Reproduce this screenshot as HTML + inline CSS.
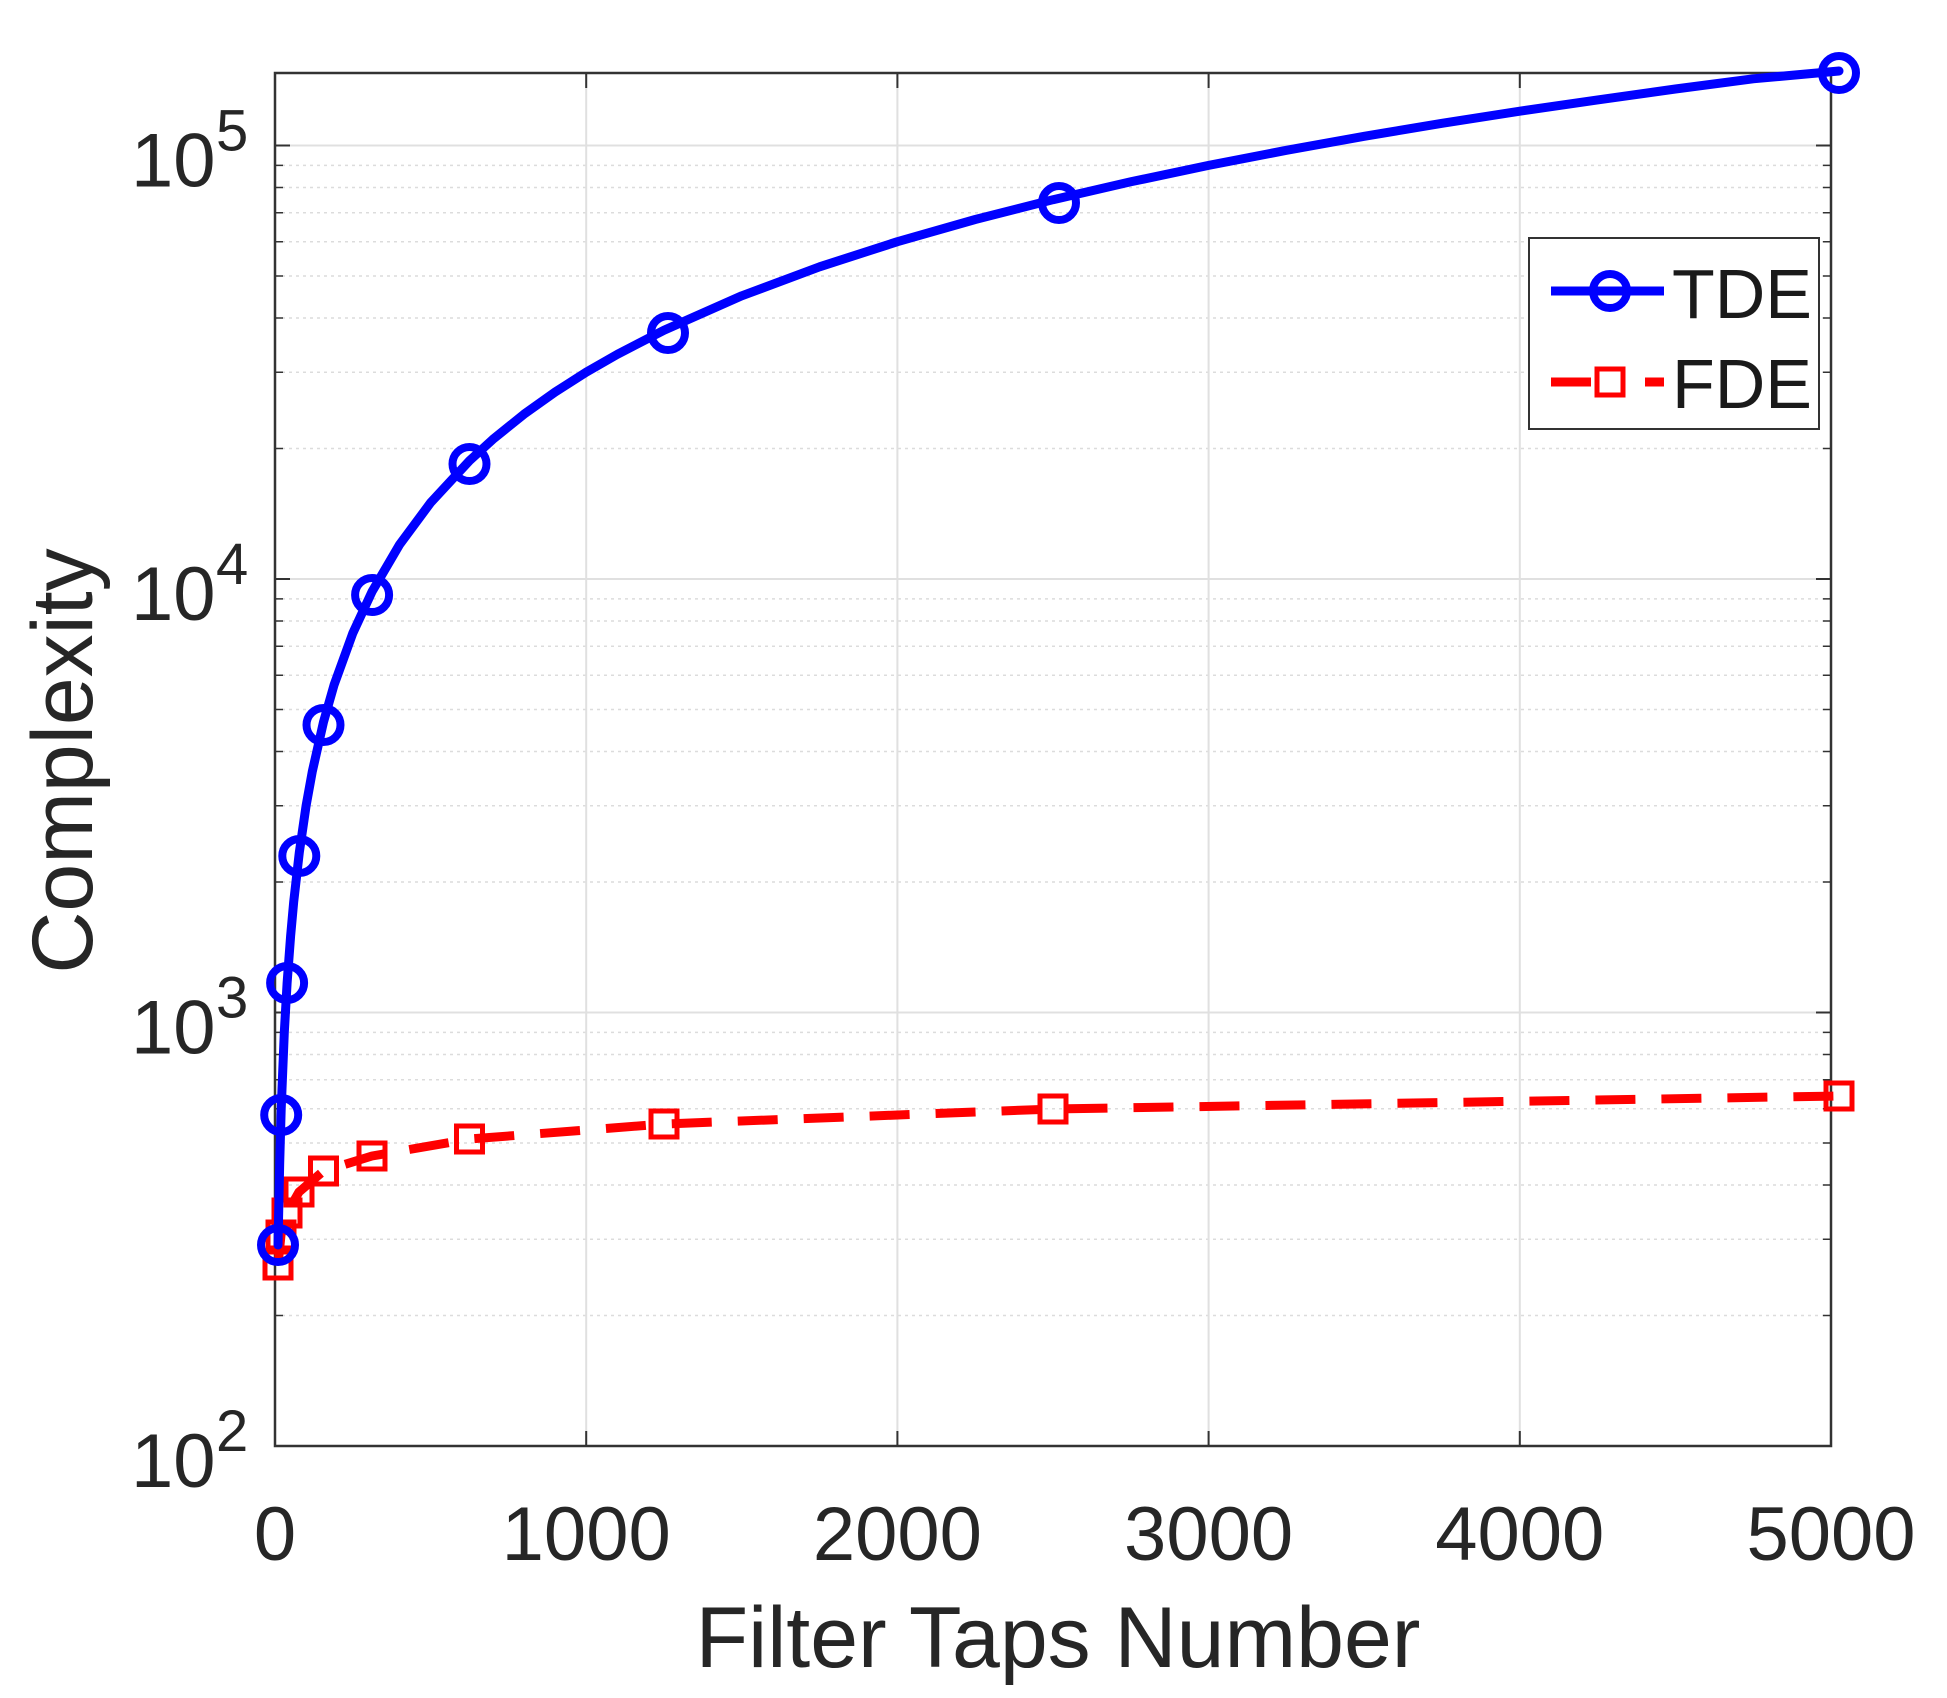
<!DOCTYPE html>
<html><head><meta charset="utf-8"><style>
html,body{margin:0;padding:0;background:#fff;}
svg{display:block;font-family:"Liberation Sans",Arial,sans-serif;}
</style></head><body>
<svg width="1947" height="1698" viewBox="0 0 1947 1698" xmlns="http://www.w3.org/2000/svg">
<rect width="1947" height="1698" fill="#fff"/>
<!-- minor grid -->
<g stroke="#dcdcdc" stroke-width="1.5" stroke-dasharray="3,4">
<line x1="275" x2="1831" y1="1315.5" y2="1315.5"/><line x1="275" x2="1831" y1="1239.2" y2="1239.2"/><line x1="275" x2="1831" y1="1185" y2="1185"/><line x1="275" x2="1831" y1="1143" y2="1143"/><line x1="275" x2="1831" y1="1108.7" y2="1108.7"/><line x1="275" x2="1831" y1="1079.7" y2="1079.7"/><line x1="275" x2="1831" y1="1054.5" y2="1054.5"/><line x1="275" x2="1831" y1="1032.4" y2="1032.4"/>
<line x1="275" x2="1831" y1="882" y2="882"/><line x1="275" x2="1831" y1="805.7" y2="805.7"/><line x1="275" x2="1831" y1="751.5" y2="751.5"/><line x1="275" x2="1831" y1="709.5" y2="709.5"/><line x1="275" x2="1831" y1="675.2" y2="675.2"/><line x1="275" x2="1831" y1="646.2" y2="646.2"/><line x1="275" x2="1831" y1="621" y2="621"/><line x1="275" x2="1831" y1="598.9" y2="598.9"/>
<line x1="275" x2="1831" y1="448.5" y2="448.5"/><line x1="275" x2="1831" y1="372.2" y2="372.2"/><line x1="275" x2="1831" y1="318" y2="318"/><line x1="275" x2="1831" y1="276" y2="276"/><line x1="275" x2="1831" y1="241.7" y2="241.7"/><line x1="275" x2="1831" y1="212.7" y2="212.7"/><line x1="275" x2="1831" y1="187.5" y2="187.5"/><line x1="275" x2="1831" y1="165.4" y2="165.4"/>
</g>
<!-- major grid -->
<g stroke="#e0e0e0" stroke-width="2">
<line x1="275" x2="1831" y1="1012.5" y2="1012.5"/><line x1="275" x2="1831" y1="579" y2="579"/><line x1="275" x2="1831" y1="145.5" y2="145.5"/>
<line x1="586.2" x2="586.2" y1="73" y2="1446"/><line x1="897.4" x2="897.4" y1="73" y2="1446"/><line x1="1208.6" x2="1208.6" y1="73" y2="1446"/><line x1="1519.8" x2="1519.8" y1="73" y2="1446"/>
</g>
<!-- ticks -->
<g stroke="#333" stroke-width="2">
<path d="M275 1012.5h15M275 579h15M275 145.5h15M1831 1012.5h-15M1831 579h-15M1831 145.5h-15"/>
<path d="M586.2 1446v-15M897.4 1446v-15M1208.6 1446v-15M1519.8 1446v-15M586.2 73v15M897.4 73v15M1208.6 73v15M1519.8 73v15"/>
<g stroke-width="1.5">
<path d="M275 1315.5h8M275 1239.2h8M275 1185h8M275 1143h8M275 1108.7h8M275 1079.7h8M275 1054.5h8M275 1032.4h8M275 882h8M275 805.7h8M275 751.5h8M275 709.5h8M275 675.2h8M275 646.2h8M275 621h8M275 598.9h8M275 448.5h8M275 372.2h8M275 318h8M275 276h8M275 241.7h8M275 212.7h8M275 187.5h8M275 165.4h8"/>
<path d="M1831 1315.5h-8M1831 1239.2h-8M1831 1185h-8M1831 1143h-8M1831 1108.7h-8M1831 1079.7h-8M1831 1054.5h-8M1831 1032.4h-8M1831 882h-8M1831 805.7h-8M1831 751.5h-8M1831 709.5h-8M1831 675.2h-8M1831 646.2h-8M1831 621h-8M1831 598.9h-8M1831 448.5h-8M1831 372.2h-8M1831 318h-8M1831 276h-8M1831 241.7h-8M1831 212.7h-8M1831 187.5h-8M1831 165.4h-8"/>
</g>
</g>
<rect x="275" y="73" width="1556" height="1373" fill="none" stroke="#333" stroke-width="2.5"/>
<!-- FDE -->
<polyline fill="none" stroke="#ff0000" stroke-width="9" stroke-dasharray="40,26" stroke-linejoin="round" points="278,1265 281,1235 287,1213 299,1192 323.5,1171 372,1156 469.5,1139 664,1124 1053,1109 1839,1096"/>
<g fill="none" stroke="#ff0000" stroke-width="5">
<rect x="265" y="1252" width="26" height="26"/><rect x="268" y="1222" width="26" height="26"/><rect x="274" y="1200" width="26" height="26"/><rect x="286" y="1179" width="26" height="26"/><rect x="310.5" y="1158" width="26" height="26"/><rect x="359" y="1143" width="26" height="26"/><rect x="456.5" y="1126" width="26" height="26"/><rect x="651" y="1111" width="26" height="26"/><rect x="1040" y="1096" width="26" height="26"/><rect x="1826" y="1083" width="26" height="26"/>
</g>
<!-- TDE -->
<polyline fill="none" stroke="#0000ff" stroke-width="9" stroke-linejoin="round" stroke-linecap="round" points="278,1245 279.7,1162.9 281.2,1108.7 284.3,1032.4 287.1,983 290.6,936.2 293.7,901.9 299.3,852.5 306.1,805.7 312.3,771.5 323.5,722 334.1,684.8 352.8,633.2 372.1,591.5 399.5,544.7 430.6,502.7 469.5,460.7 492.8,439.4 524,414.2 555.1,392.1 586.2,372.2 617.3,354.4 664,330.2 741.8,295.8 819.6,266.8 897.4,241.7 975.2,219.5 1053,199.7 1130.8,181.8 1208.6,165.4 1286.4,150.3 1364.2,136.3 1442,123.3 1519.8,111.2 1597.6,99.9 1675.4,89 1753.2,78.8 1839,71"/>
<g fill="none" stroke="#0000ff" stroke-width="8">
<circle cx="278" cy="1245" r="17"/><circle cx="281.2" cy="1115" r="17"/><circle cx="287.1" cy="983" r="17"/><circle cx="299.3" cy="856" r="17"/><circle cx="323.5" cy="725" r="17"/><circle cx="372.1" cy="595" r="17"/><circle cx="469.5" cy="464" r="17"/><circle cx="668" cy="333" r="17"/><circle cx="1059" cy="203" r="17"/><circle cx="1839" cy="73" r="17"/>
</g>
<!-- legend -->
<rect x="1529" y="238" width="290" height="191" fill="#fff" stroke="#333" stroke-width="2"/>
<line x1="1551" x2="1664" y1="291" y2="291" stroke="#0000ff" stroke-width="9"/>
<circle cx="1610" cy="291" r="17" fill="none" stroke="#0000ff" stroke-width="8"/>
<path d="M1551 382h40M1645 382h19" stroke="#ff0000" stroke-width="9"/>
<rect x="1597" y="369" width="26" height="26" fill="#fff" stroke="#ff0000" stroke-width="5"/>
<g fill="#1a1a1a" font-size="70">
<text x="1672" y="318">TDE</text>
<text x="1672" y="408">FDE</text>
</g>
<!-- tick labels -->
<g fill="#262626" font-size="76" text-anchor="middle">
<text x="275" y="1560">0</text><text x="586.2" y="1560">1000</text><text x="897.4" y="1560">2000</text><text x="1208.6" y="1560">3000</text><text x="1519.8" y="1560">4000</text><text x="1831" y="1560">5000</text>
</g>
<g fill="#262626" font-size="76">
<text x="131" y="1487">10</text><text x="216" y="1451" font-size="58">2</text>
<text x="131" y="1053.5">10</text><text x="216" y="1017.5" font-size="58">3</text>
<text x="131" y="620">10</text><text x="216" y="584" font-size="58">4</text>
<text x="131" y="186.5">10</text><text x="216" y="150.5" font-size="58">5</text>
</g>
<text x="1058" y="1667" font-size="86" fill="#262626" text-anchor="middle">Filter Taps Number</text>
<text transform="translate(92,761) rotate(-90)" font-size="86" fill="#262626" text-anchor="middle">Complexity</text>
</svg>
</body></html>
